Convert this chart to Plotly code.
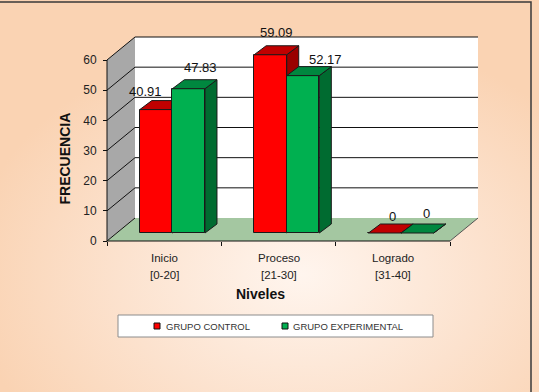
import base64
import plotly.graph_objects as go

# ---------------- data ----------------
categories = ["Inicio", "Proceso", "Logrado"]
ranges = ["[0-20]", "[21-30]", "[31-40]"]
grupo_control = [40.91, 59.09, 0]
grupo_experimental = [47.83, 52.17, 0]
y_ticks = [0, 10, 20, 30, 40, 50, 60]
series_names = ["GRUPO CONTROL", "GRUPO EXPERIMENTAL"]

# ---------------- geometry / style ----------------
W, H = 539, 392
FONT = "Liberation Sans, Arial, sans-serif"
X0PX, X3PX = 107, 450          # front x-axis from category 0 to 3
Y0PX, Y60PX = 241, 60          # front y-axis value 0 and 60
PX = (X3PX - X0PX) / 3.0
PY = (Y0PX - Y60PX) / 60.0
xr = [(0 - X0PX) / PX, (W - X0PX) / PX]
yr = [-(H - Y0PX) / PY, Y0PX / PY]

DX_WALL, DY_WALL = 28 / PX, 23 / PY     # chart depth
S_BAR, B_BAR = 0.072, 8 / PY             # bar plane shift
DX_BAR, DY_BAR = 12 / PX, 9 / PY         # bar depth
BW = 0.285                               # bar width

RED, RED_TOP, RED_SIDE = "#FF0000", "#C00000", "#9A0000"
GRN, GRN_TOP, GRN_SIDE = "#00B050", "#00873F", "#006B30"
EDGE = "#1a1a1a"

LABEL_DX = {"c": [-11, 6, 8], "e": [12, 22, 9]}
LABEL_DY = {"c": [18, 22, 17], "e": [21, 16, 20]}

fig = go.Figure()

# dummy on base axes
fig.add_trace(go.Scatter(x=[None], y=[None], xaxis="x", yaxis="y",
                         showlegend=False, hoverinfo="skip"))


def add_series(values, off, front, top, side, ax, name):
    side_x, side_y, top_x, top_y = [], [], [], []
    for i, v in enumerate(values):
        xl = i + off
        xrr = xl + BW
        side_x += [xrr, xrr, xrr + DX_BAR, xrr + DX_BAR, xrr, None]
        side_y += [0, v, v + DY_BAR, DY_BAR, 0, None]
        top_x += [xl, xrr, xrr + DX_BAR, xl + DX_BAR, xl, None]
        top_y += [v, v, v + DY_BAR, v + DY_BAR, v, None]
    # bars (front faces)
    fig.add_trace(go.Bar(x=list(range(len(values))), y=values, width=BW, offset=off,
                         marker=dict(color=front, line=dict(color=EDGE, width=1)),
                         name=name, showlegend=False, xaxis="x" + ax, yaxis="y" + ax))
    fig.add_trace(go.Scatter(x=side_x, y=side_y, mode="lines", fill="toself",
                             fillcolor=side, line=dict(color=EDGE, width=1),
                             showlegend=False, hoverinfo="skip",
                             xaxis="x" + ax, yaxis="y" + ax))
    fig.add_trace(go.Scatter(x=top_x, y=top_y, mode="lines", fill="toself",
                             fillcolor=top, line=dict(color=EDGE, width=1),
                             showlegend=False, hoverinfo="skip",
                             xaxis="x" + ax, yaxis="y" + ax))


add_series(grupo_control, -BW, RED, RED_TOP, RED_SIDE, "2", series_names[0])
add_series(grupo_experimental, 0, GRN, GRN_TOP, GRN_SIDE, "3", series_names[1])

# ---------------- walls / floor shapes ----------------
shapes = []
shapes.append(dict(type="path", xref="x", yref="y", layer="below",
                   path=f"M 0,0 L 0,60 L {DX_WALL},{60 + DY_WALL} L {DX_WALL},{DY_WALL} Z",
                   fillcolor="#A8A8A8", line=dict(width=0)))
shapes.append(dict(type="rect", xref="x", yref="y", layer="below",
                   x0=DX_WALL, x1=3 + DX_WALL, y0=DY_WALL, y1=60 + DY_WALL,
                   fillcolor="white", line=dict(width=0)))
shapes.append(dict(type="path", xref="x", yref="y", layer="below",
                   path=f"M 0,0 L 3,0 L {3 + DX_WALL},{DY_WALL} L {DX_WALL},{DY_WALL} Z",
                   fillcolor="#A4C7A1", line=dict(width=0)))
for v in y_ticks[1:]:
    shapes.append(dict(type="line", xref="x", yref="y", layer="below",
                       x0=DX_WALL, x1=3 + DX_WALL, y0=v + DY_WALL, y1=v + DY_WALL,
                       line=dict(color="#111", width=1)))
for v in y_ticks:
    shapes.append(dict(type="line", xref="x", yref="y", layer="below",
                       x0=0, x1=DX_WALL, y0=v, y1=v + DY_WALL,
                       line=dict(color="#111", width=1)))
shapes.append(dict(type="line", xref="x", yref="y", layer="below",
                   x0=3, x1=3 + DX_WALL, y0=0, y1=DY_WALL,
                   line=dict(color="#555", width=1)))
shapes.append(dict(type="line", xref="x", yref="y", layer="below",
                   x0=0, x1=0, y0=0, y1=60, line=dict(color="#111", width=1)))
shapes.append(dict(type="line", xref="x", yref="y", layer="below",
                   x0=0, x1=3, y0=0, y1=0, line=dict(color="#111", width=1)))

# legend box (manual)
shapes.append(dict(type="rect", xref="paper", yref="paper",
                   x0=118 / W, x1=433 / W, y0=1 - 337 / H, y1=1 - 315 / H,
                   fillcolor="white", line=dict(color="#8C8C8C", width=1)))
for cx, col in [(157, RED), (285, GRN)]:
    shapes.append(dict(type="rect", xref="paper", yref="paper",
                       x0=(cx - 3) / W, x1=(cx + 3) / W,
                       y0=1 - 329 / H, y1=1 - 323 / H,
                       fillcolor=col, line=dict(color="#111", width=1)))
# outer border
shapes.append(dict(type="path", xref="paper", yref="paper",
                   path=f"M -0.01,{1 - 2 / H} L {531 / W},{1 - 2 / H} L {531 / W},-0.01",
                   line=dict(color="#3a3a3a", width=1.5)))

# ---------------- annotations ----------------
ann = []
for key, vals, ax, off in [("c", grupo_control, "2", -BW / 2), ("e", grupo_experimental, "3", BW / 2)]:
    for i, v in enumerate(vals):
        ann.append(dict(x=i + off, y=v, xref="x" + ax, yref="y" + ax, text=f"{v:g}",
                        showarrow=False, yanchor="middle",
                        xshift=LABEL_DX[key][i], yshift=LABEL_DY[key][i],
                        font=dict(family=FONT, size=13, color="#111")))
for i, (c, r) in enumerate(zip(categories, ranges)):
    ann.append(dict(x=i + 0.5, y=1 - 258 / H, xref="x", yref="paper", text=c,
                    showarrow=False, yanchor="middle",
                    font=dict(family=FONT, size=11.5, color="#222")))
    ann.append(dict(x=i + 0.5, y=1 - 275 / H, xref="x", yref="paper", text=r,
                    showarrow=False, yanchor="middle",
                    font=dict(family=FONT, size=11.5, color="#222")))
ann.append(dict(x=260.5 / W, y=1 - 293.5 / H, xref="paper", yref="paper", text="<b>Niveles</b>",
                showarrow=False, yanchor="middle",
                font=dict(family=FONT, size=14, color="#111")))
ann.append(dict(x=54 / W, y=1 - 158.5 / H, xref="paper", yref="paper", text="<b>FRECUENCIA</b>",
                textangle=-90, showarrow=False, font=dict(family=FONT, size=14, color="#111")))
for tx, name in [(164, series_names[0]), (291, series_names[1])]:
    ann.append(dict(x=tx / W, y=1 - 326 / H, xref="paper", yref="paper", text=name,
                    xanchor="left", yanchor="middle", showarrow=False,
                    font=dict(family=FONT, size=9.5, color="#333")))

# ---------------- background gradient ----------------
svg = (f'<svg xmlns="http://www.w3.org/2000/svg" width="{W}" height="{H}">'
       '<defs><radialGradient id="g" cx="0.56" cy="0.70" r="0.62">'
       '<stop offset="0" stop-color="#FFF5EE"/><stop offset="0.55" stop-color="#FCE2CE"/>'
       '<stop offset="1" stop-color="#FAD3B3"/></radialGradient></defs>'
       f'<rect width="{W}" height="{H}" fill="url(#g)"/></svg>')
src = "data:image/svg+xml;base64," + base64.b64encode(svg.encode()).decode()

hidden = dict(visible=False, showgrid=False, zeroline=False)
fig.update_layout(
    width=W, height=H, margin=dict(l=0, r=0, t=0, b=0),
    paper_bgcolor="#FAD8BE", plot_bgcolor="rgba(0,0,0,0)",
    showlegend=False, bargap=0,
    images=[dict(source=src, xref="paper", yref="paper", x=0, y=1, sizex=1, sizey=1,
                 sizing="stretch", xanchor="left", yanchor="top", layer="below")],
    xaxis=dict(domain=[0, 1], range=xr, anchor="free", position=(H - Y0PX) / H,
               tickvals=[0, 1, 2, 3], showticklabels=False, ticks="outside", ticklen=4,
               tickcolor="#111", showgrid=False, zeroline=False, showline=False, fixedrange=True),
    yaxis=dict(domain=[0, 1], range=yr, anchor="free", position=X0PX / W,
               tickvals=y_ticks, ticks="outside", ticklen=4, tickcolor="#111",
               ticklabelstandoff=4,
               tickfont=dict(family=FONT, size=12, color="#222"),
               showgrid=False, zeroline=False, showline=False, fixedrange=True),
    xaxis2=dict(overlaying="x", range=[xr[0] - 0.5 - S_BAR, xr[1] - 0.5 - S_BAR], **hidden),
    yaxis2=dict(overlaying="y", range=[yr[0] - B_BAR, yr[1] - B_BAR], **hidden),
    xaxis3=dict(overlaying="x", range=[xr[0] - 0.5 - S_BAR, xr[1] - 0.5 - S_BAR], **hidden),
    yaxis3=dict(overlaying="y", range=[yr[0] - B_BAR, yr[1] - B_BAR], **hidden),
    shapes=shapes, annotations=ann,
)

fig.write_html("out.html")
